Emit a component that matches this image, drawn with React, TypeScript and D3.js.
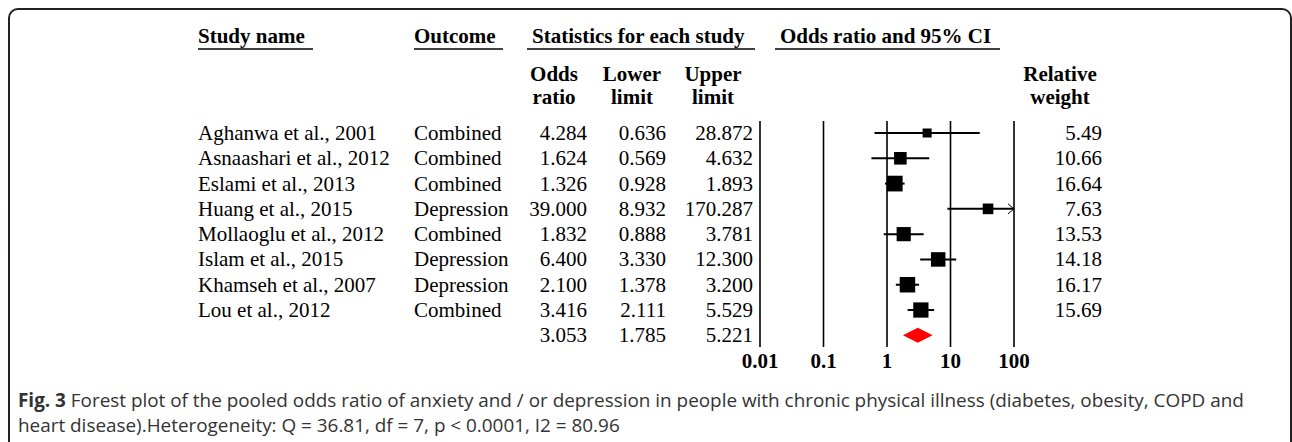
import * as d3 from 'd3';

// forest plot data
const studies = [
  'Aghanwa et al., 2001',
  'Asnaashari et al., 2012',
  'Eslami et al., 2013',
  'Huang et al., 2015',
  'Mollaoglu et al., 2012',
  'Islam et al., 2015',
  'Khamseh et al., 2007',
  'Lou et al., 2012',
];
const outcomes = ['Combined', 'Combined', 'Combined', 'Depression', 'Combined', 'Depression', 'Depression', 'Combined'];
const oddsRatios = [4.284, 1.624, 1.326, 39.0, 1.832, 6.4, 2.1, 3.416];
const lowerLimits = [0.636, 0.569, 0.928, 8.932, 0.888, 3.33, 1.378, 2.111];
const upperLimits = [28.872, 4.632, 1.893, 170.287, 3.781, 12.3, 3.2, 5.529];
const weights = [5.49, 10.66, 16.64, 7.63, 13.53, 14.18, 16.17, 15.69];
const pooled = [3.053, 1.785, 5.221];
const axisTicks = [0.01, 0.1, 1, 10, 100];
const tickLabels = ['0.01', '0.1', '1', '10', '100'];

const captionBold = 'Fig. 3';
const captionLine1 = ' Forest plot of the pooled odds ratio of anxiety and / or depression in people with chronic physical illness (diabetes, obesity, COPD and';
const captionLine2 = 'heart disease).Heterogeneity: Q = 36.81, df = 7, p < 0.0001, I2 = 80.96';

const W = 1292;
const H = 442;
const serif = '"Liberation Serif", "Times New Roman", serif';
const sans = '"Open Sans", "Noto Sans", sans-serif';

const App = () => {
  const x = d3.scaleLog().domain([0.01, 100]).range([760, 1014]);
  const y = d3.scaleLinear().domain([0, studies.length]).range([133, 335.3]);
  const size = d3.scaleSqrt().domain([0, d3.max(weights) as number]).range([0, 15.7]);
  const f3 = d3.format('.3f');
  const f2 = d3.format('.2f');
  const [xMin, xMax] = x.domain();

  const colStudy = 198;
  const colOutcome = 414;
  const colOR = 587;
  const colLow = 666;
  const colUp = 753;
  const colW = 1102;
  const fs = 21;

  const headers = [
    { t: 'Study name', x: 198, u0: 198, u1: 313 },
    { t: 'Outcome', x: 414, u0: 414, u1: 503 },
    { t: 'Statistics for each study', x: 532, u0: 527, u1: 755 },
    { t: 'Odds ratio and 95% CI', x: 780, u0: 775, u1: 1000 },
  ];
  const subHeaders = [
    { a: 'Odds', b: 'ratio', x: 554 },
    { a: 'Lower', b: 'limit', x: 632 },
    { a: 'Upper', b: 'limit', x: 713 },
    { a: 'Relative', b: 'weight', x: 1060 },
  ];

  const diamond = d3.line()([
    [x(pooled[1]), y(8)],
    [x(pooled[0]), y(8) - 7.5],
    [x(pooled[2]), y(8)],
    [x(pooled[0]), y(8) + 7.5],
  ]) + 'Z';

  return (
    <svg width={W} height={H} style={{ position: 'absolute', left: 0, top: 0, background: '#fff' }}>
      <rect x={9} y={9} width={1282} height={500} rx={9} fill="none" stroke="#222" strokeWidth={2} />

      {/* header */}
      <g fontFamily={serif} fontSize={fs} fontWeight="bold" fill="#000">
        {headers.map((h) => (
          <g key={h.t}>
            <text x={h.x} y={43}>{h.t}</text>
            <line x1={h.u0} x2={h.u1} y1={49} y2={49} stroke="#000" strokeWidth={1.5} />
          </g>
        ))}
        {subHeaders.map((s) => (
          <g key={s.a} textAnchor="middle">
            <text x={s.x} y={81}>{s.a}</text>
            <text x={s.x} y={104}>{s.b}</text>
          </g>
        ))}
      </g>

      {/* table rows */}
      <g fontFamily={serif} fontSize={fs} fill="#000">
        {studies.map((s, i) => (
          <g key={s}>
            <text x={colStudy} y={y(i) + 7}>{s}</text>
            <text x={colOutcome} y={y(i) + 7}>{outcomes[i]}</text>
            <text x={colOR} y={y(i) + 7} textAnchor="end">{f3(oddsRatios[i])}</text>
            <text x={colLow} y={y(i) + 7} textAnchor="end">{f3(lowerLimits[i])}</text>
            <text x={colUp} y={y(i) + 7} textAnchor="end">{f3(upperLimits[i])}</text>
            <text x={colW} y={y(i) + 7} textAnchor="end">{f2(weights[i])}</text>
          </g>
        ))}
        <text x={colOR} y={y(8) + 7} textAnchor="end">{f3(pooled[0])}</text>
        <text x={colLow} y={y(8) + 7} textAnchor="end">{f3(pooled[1])}</text>
        <text x={colUp} y={y(8) + 7} textAnchor="end">{f3(pooled[2])}</text>
      </g>

      {/* axis lines */}
      {axisTicks.map((t, i) => (
        <g key={t}>
          <line x1={x(t)} x2={x(t)} y1={121} y2={347} stroke="#000" strokeWidth={1.6} />
          <text x={x(t)} y={368} textAnchor="middle" fontFamily={serif} fontSize={fs} fontWeight="bold">{tickLabels[i]}</text>
        </g>
      ))}

      {/* CIs and squares */}
      {studies.map((s, i) => {
        const lo = Math.max(lowerLimits[i], xMin);
        const hi = Math.min(upperLimits[i], xMax);
        const cy = y(i);
        const sz = size(weights[i]);
        return (
          <g key={s}>
            <line x1={x(lo)} x2={x(hi)} y1={cy} y2={cy} stroke="#000" strokeWidth={2} />
            {upperLimits[i] > xMax && (
              <path d={`M${x(hi) - 6},${cy - 5}L${x(hi)},${cy}L${x(hi) - 6},${cy + 5}`} fill="none" stroke="#000" strokeWidth={1} />
            )}
            <rect x={x(oddsRatios[i]) - sz / 2} y={cy - sz / 2} width={sz} height={sz} fill="#000" />
          </g>
        );
      })}
      <path d={diamond} fill="#ff0000" />

      {/* caption */}
      <g fontFamily={sans} fontSize={18.9} fill="#333">
        <text x={18} y={407}>
          <tspan fontWeight="bold">{captionBold}</tspan>
          <tspan>{captionLine1}</tspan>
        </text>
        <text x={18} y={432}>{captionLine2}</text>
      </g>
    </svg>
  );
};

export default App;
